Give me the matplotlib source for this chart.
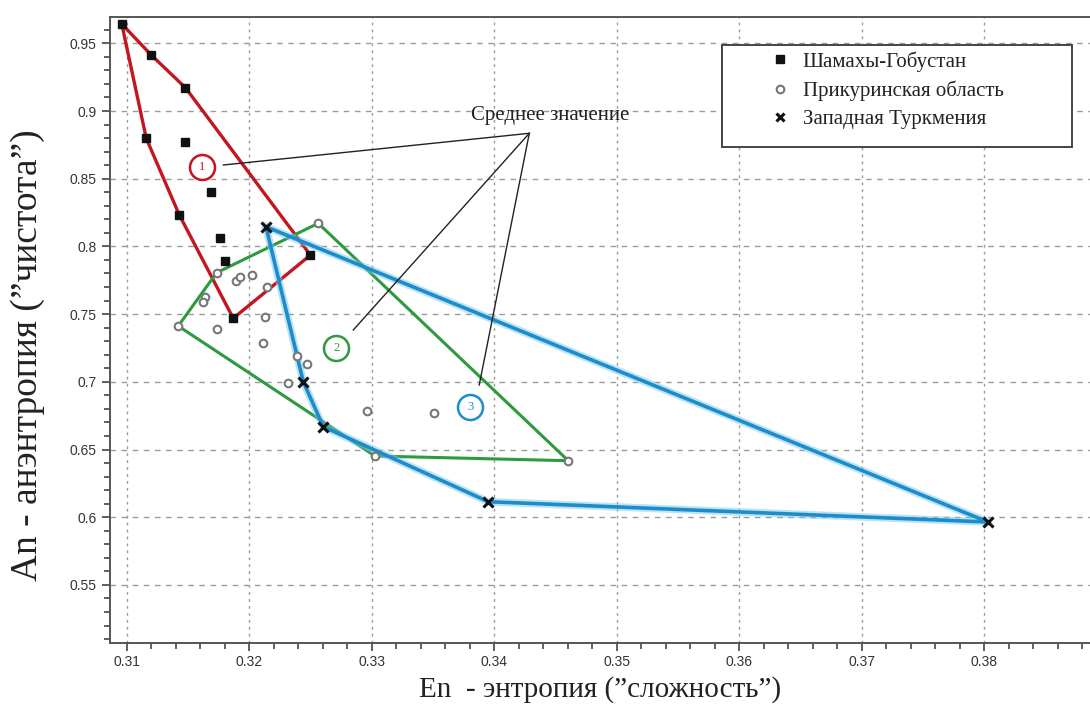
import matplotlib
matplotlib.use("Agg")
import matplotlib.pyplot as plt
from matplotlib.lines import Line2D
from matplotlib.patches import Rectangle
from matplotlib.ticker import MultipleLocator

# Шамахы-Гобустан
sh_x = [0.3096, 0.3120, 0.3148, 0.3116, 0.3148, 0.3169, 0.3143, 0.3176, 0.3180, 0.3250, 0.3187]
sh_y = [0.9643, 0.9414, 0.9172, 0.8798, 0.8769, 0.8404, 0.8232, 0.8060, 0.7892, 0.7936, 0.7469]
sh_hull = [0, 1, 2, 9, 10, 6, 3, 0]

# Прикуринская область
pr_x = [0.32564, 0.31735, 0.31892, 0.31925, 0.32020, 0.32143, 0.31639, 0.31625, 0.31421, 0.31735,
        0.32129, 0.32115, 0.32388, 0.32469, 0.32319, 0.32959, 0.33509, 0.33027, 0.34605]
pr_y = [0.81706, 0.78058, 0.77445, 0.77717, 0.77888, 0.77023, 0.76285, 0.75915, 0.74121, 0.73877,
        0.74808, 0.72887, 0.71906, 0.71292, 0.69889, 0.67866, 0.67718, 0.64520, 0.64173]
pr_hull = [0, 18, 17, 8, 1, 0]

# Западная Туркмения
tk_x = [0.32137, 0.32442, 0.32605, 0.33952, 0.38031]
tk_y = [0.81455, 0.70001, 0.66684, 0.61145, 0.59645]
tk_hull = [0, 4, 3, 2, 1, 0]

labels = ["Шамахы-Гобустан", "Прикуринская область", "Западная Туркмения"]

# средние значения (кружки с номерами)
mean_x = [0.31618, 0.32712, 0.33806]
mean_y = [0.85886, 0.72519, 0.68161]
mean_txt = ["1", "2", "3"]

# концы выносных линий и точка схождения
note_xy = (0.34287, 0.88353)
note_ends = [(0.31789, 0.86012), (0.32850, 0.73826), (0.33878, 0.69764)]
note_text = "Среднее значение"
note_text_xy = (0.34456, 0.89705)

red = "#c3161f"
green = "#2e9a3e"
blue = "#1c8ccb"
serif = "Liberation Serif"

fig = plt.figure(figsize=(10.9, 7.06), dpi=100)
ax = fig.add_axes([110 / 1090, 63 / 706, 980 / 1090, 626.3 / 706])

ax.set_xlim(0.30864, 0.38864)
ax.set_ylim(0.5071, 0.96965)

ax.xaxis.set_minor_locator(MultipleLocator(0.002))
ax.yaxis.set_minor_locator(MultipleLocator(0.01))
ax.set_xticks([0.31, 0.32, 0.33, 0.34, 0.35, 0.36, 0.37, 0.38])
ax.set_xticklabels(["0.31", "0.32", "0.33", "0.34", "0.35", "0.36", "0.37", "0.38"])
ax.set_yticks([0.55, 0.6, 0.65, 0.7, 0.75, 0.8, 0.85, 0.9, 0.95])
ax.set_yticklabels(["0.55", "0.6", "0.65", "0.7", "0.75", "0.8", "0.85", "0.9", "0.95"])
ax.tick_params(which="major", length=6, width=1.2, color="#444444",
               labelsize=10, labelcolor="#333333")
ax.tick_params(axis="x", which="major", pad=3)
ax.tick_params(which="minor", length=4, width=1.2, color="#444444")
for lab in ax.get_xticklabels() + ax.get_yticklabels():
    lab.set_family("Liberation Sans")

for s in ["left", "bottom", "top"]:
    ax.spines[s].set_color("#555555")
    ax.spines[s].set_linewidth(1.4)
ax.spines["right"].set_visible(False)

ax.grid(axis="x", color="#9a9a9a", linestyle=(0, (2, 3)), linewidth=1.0)
ax.grid(axis="y", color="#9a9a9a", linestyle=(0, (4, 4)), linewidth=1.0)
ax.set_axisbelow(True)

# оболочки
ax.plot([sh_x[i] for i in sh_hull], [sh_y[i] for i in sh_hull], color=red, lw=2.4, zorder=2)
ax.plot([pr_x[i] for i in pr_hull], [pr_y[i] for i in pr_hull], color=green, lw=2.2, zorder=2)
ax.plot([tk_x[i] for i in tk_hull], [tk_y[i] for i in tk_hull], color="#7cc8ee", lw=5.5,
        alpha=0.5, zorder=3, solid_joinstyle="round")
ax.plot([tk_x[i] for i in tk_hull], [tk_y[i] for i in tk_hull], color=blue, lw=2.6, zorder=3)

# точки
ax.plot(sh_x, sh_y, "s", color="#111111", ms=6, ls="none", zorder=4)
ax.plot(pr_x, pr_y, "o", mfc="white", mec="#777777", mew=1.5, ms=5.5, ls="none", zorder=4)
ax.plot(tk_x, tk_y, "x", color="#111111", ms=7, mew=2.2, ls="none", zorder=4)

# средние значения
for x, y, t, c in zip(mean_x, mean_y, mean_txt, [red, green, blue]):
    ax.plot(x, y, "o", mfc="white", mec=c, mew=1.8, ms=18, zorder=4)
    ax.text(x, y, t, color=c, fontsize=9, family=serif, ha="center", va="center", zorder=5)

for ex, ey in note_ends:
    ax.plot([ex, note_xy[0]], [ey, note_xy[1]], color="#222222", lw=1.0, zorder=4)
ax.text(note_text_xy[0], note_text_xy[1], note_text, family=serif, fontsize=15,
        color="#222222", ha="center", va="center", zorder=5)

# легенда
ax.add_patch(Rectangle((0.6242, 0.7924), 0.3571, 0.1624, transform=ax.transAxes,
                       facecolor="white", edgecolor="#444444", lw=1.4, zorder=6))
handles = [
    Line2D([], [], marker="s", color="#111111", ms=6, ls="none"),
    Line2D([], [], marker="o", mfc="white", mec="#777777", mew=1.5, ms=5.5, ls="none"),
    Line2D([], [], marker="x", color="#111111", ms=6, mew=2.2, ls="none"),
]
leg = ax.legend(handles, labels, loc="upper left", bbox_to_anchor=(0.673, 0.9448),
                frameon=False, borderpad=0, borderaxespad=0, handlelength=1.0,
                handletextpad=0.6, labelspacing=0.41, prop={"family": serif, "size": 15})
leg.set_zorder(7)
for t in leg.get_texts():
    t.set_color("#222222")

ax.set_xlabel("En  - энтропия (\u201dсложность\u201d)", family=serif, fontsize=21, color="#222222")
ax.xaxis.set_label_coords(0.5, -0.0525)
ax.set_ylabel("An - анэнтропия (\u201dчистота\u201d)", family=serif, fontsize=27, color="#222222")
ax.yaxis.set_label_coords(-0.066, 0.4598)

fig.savefig("out.png", dpi=100)
